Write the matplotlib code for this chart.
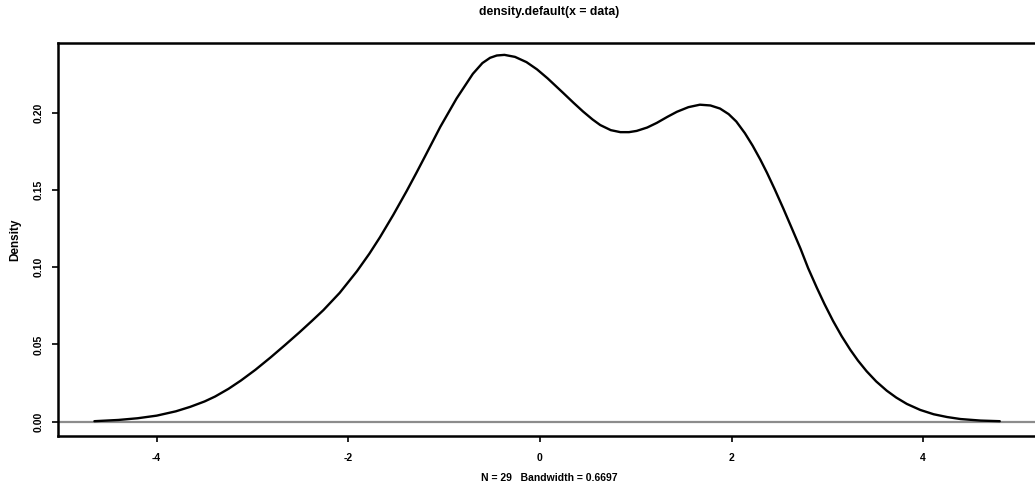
import matplotlib
matplotlib.use("Agg")
import matplotlib.pyplot as plt

# Density curve points
x_vals = [-4.65, -4.40, -4.20, -4.00, -3.80, -3.65, -3.50, -3.39, -3.25, -3.12,
          -2.97, -2.81, -2.66, -2.51, -2.38, -2.26, -2.09, -1.91, -1.78, -1.67,
          -1.53, -1.39, -1.29, -1.20, -1.04, -0.87, -0.70, -0.60, -0.52, -0.45,
          -0.37, -0.26, -0.14, -0.03, 0.08, 0.24, 0.35, 0.45, 0.55, 0.63,
          0.74, 0.84, 0.93, 1.01, 1.12, 1.22, 1.33, 1.43, 1.55, 1.67,
          1.78, 1.88, 1.97, 2.05, 2.14, 2.22, 2.30, 2.37, 2.45, 2.54,
          2.63, 2.72, 2.80, 2.89, 2.97, 3.06, 3.15, 3.24, 3.32, 3.41,
          3.51, 3.62, 3.72, 3.83, 3.97, 4.11, 4.25, 4.39, 4.60, 4.80]
density = [0.0002, 0.0010, 0.0021, 0.0038, 0.0066, 0.0095, 0.0130, 0.0162, 0.0212, 0.0266,
           0.0335, 0.0416, 0.0496, 0.0578, 0.0652, 0.0722, 0.0834, 0.0974, 0.1088, 0.1194,
           0.1340, 0.1495, 0.1611, 0.1718, 0.1910, 0.2094, 0.2254, 0.2324, 0.2358, 0.2373,
           0.2377, 0.2364, 0.2330, 0.2283, 0.2225, 0.2132, 0.2067, 0.2010, 0.1958, 0.1922,
           0.1889, 0.1876, 0.1876, 0.1884, 0.1906, 0.1936, 0.1975, 0.2008, 0.2038, 0.2054,
           0.2049, 0.2029, 0.1993, 0.1945, 0.1869, 0.1789, 0.1699, 0.1613, 0.1507, 0.1382,
           0.1252, 0.1121, 0.0994, 0.0868, 0.0762, 0.0652, 0.0553, 0.0465, 0.0395, 0.0326,
           0.0260, 0.0200, 0.0155, 0.0114, 0.0075, 0.0047, 0.0029, 0.0016, 0.0006, 0.0002]

x_ticks = [-4, -2, 0, 2, 4]
y_ticks = [0.00, 0.05, 0.10, 0.15, 0.20]
y_tick_labels = ["0.00", "0.05", "0.10", "0.15", "0.20"]

title = "density.default(x = data)"
xlabel = "N = 29   Bandwidth = 0.6697"
ylabel = "Density"

plt.rcParams['font.family'] = ['Liberation Sans', 'DejaVu Sans']

fig = plt.figure(figsize=(10.35, 4.92), dpi=100)
ax = fig.add_axes([58/1035, 56/492, (1040-58)/1035, (436-43)/492])

ax.axhline(0, color='#8c8c8c', lw=1.6, zorder=1)
ax.plot(x_vals, density, color='black', lw=1.7, zorder=2,
        solid_joinstyle='round', solid_capstyle='round')

ax.set_xlim(-5.03, 5.22)
ax.set_ylim(-0.0094, 0.2454)

ax.set_xticks(x_ticks)
ax.set_xticklabels([str(t) for t in x_ticks], fontsize=7.5, fontweight='bold')
ax.set_yticks(y_ticks)
ax.set_yticklabels(y_tick_labels, fontsize=7.5, fontweight='bold', rotation=90, va='center')
ax.tick_params(axis='both', direction='out', length=4.5, width=1.2, color='black')
ax.tick_params(axis='x', pad=8)
ax.tick_params(axis='y', pad=6)

for s in ['left', 'top', 'bottom', 'right']:
    ax.spines[s].set_linewidth(1.8)
    ax.spines[s].set_color('black')

ax.set_title(title, fontsize=8.8, fontweight='bold', pad=20)
ax.set_xlabel(xlabel, fontsize=7.5, fontweight='bold', labelpad=7)
ax.set_ylabel(ylabel, fontsize=8.5, fontweight='bold', labelpad=9)

fig.savefig("out.png", dpi=100)
